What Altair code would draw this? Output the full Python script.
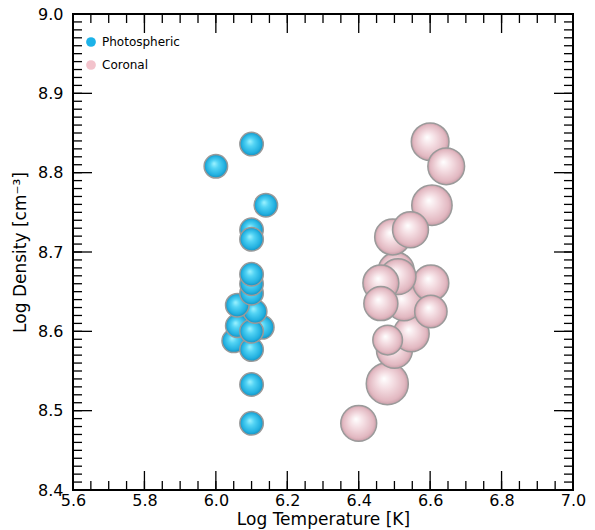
import altair as alt
import pandas as pd

# ---- data ----
photo_T = [6.10, 6.10, 6.05, 6.06, 6.10, 6.13, 6.10, 6.11, 6.06, 6.10, 6.10, 6.10, 6.10, 6.10, 6.14, 6.00, 6.10]
photo_D = [8.484, 8.533, 8.588, 8.607, 8.577, 8.605, 8.600, 8.625, 8.633, 8.648, 8.660, 8.672, 8.728, 8.716, 8.759, 8.808, 8.836]

cor_T = [6.40, 6.48, 6.50, 6.547, 6.527, 6.481, 6.602, 6.602, 6.505, 6.51, 6.462, 6.462, 6.605, 6.495, 6.545, 6.60, 6.645]
cor_D = [8.484, 8.534, 8.576, 8.597, 8.636, 8.589, 8.661, 8.625, 8.677, 8.669, 8.661, 8.635, 8.759, 8.719, 8.728, 8.839, 8.808]
cor_S = [1290, 1770, 1290, 1290, 1290, 880, 1290, 1050, 1290, 1290, 1290, 1160, 1630, 1290, 1290, 1420, 1350]

categories = ["Photospheric", "Coronal"]
legend_colors = ["#1cb2e8", "#f3c3cc"]

x_major = [5.6, 5.8, 6.0, 6.2, 6.4, 6.6, 6.8, 7.0]
x_minor = [round(5.6 + 0.05 * i, 2) for i in range(29)]
y_major = [8.4, 8.5, 8.6, 8.7, 8.8, 8.9, 9.0]
y_minor = [round(8.4 + 0.01 * i, 2) for i in range(61)]

photo = pd.DataFrame({"T": photo_T, "D": photo_D, "kind": "Photospheric"})
coronal = pd.DataFrame({"T": cor_T, "D": cor_D, "S": cor_S, "kind": "Coronal"})
both = pd.concat([photo, coronal], ignore_index=True)

W, H = 500, 476
MAJ, MIN = 19, 9
xs = alt.Scale(domain=[5.6, 7.0], nice=False, zero=False)
ys = alt.Scale(domain=[8.4, 9.0], nice=False, zero=False)
FONT = "DejaVu Sans"

blue_grad = {"gradient": "radial", "x1": 0.42, "y1": 0.38, "r1": 0.0, "x2": 0.5, "y2": 0.5, "r2": 0.5,
             "stops": [{"offset": 0, "color": "#9ff3ff"}, {"offset": 0.35, "color": "#52d3f4"},
                       {"offset": 0.8, "color": "#22b0e0"}, {"offset": 1, "color": "#1590bf"}]}
pink_grad = {"gradient": "radial", "x1": 0.42, "y1": 0.38, "r1": 0.0, "x2": 0.5, "y2": 0.5, "r2": 0.5,
             "stops": [{"offset": 0, "color": "#ffffff"}, {"offset": 0.4, "color": "#f4dde2"},
                       {"offset": 0.85, "color": "#e2b8c1"}, {"offset": 1, "color": "#c79ea8"}]}

# labels, titles and the legend (tiny points hidden under the spheres)
base = alt.Chart(both).mark_circle(size=10, opacity=1).encode(
    x=alt.X("T:Q", scale=xs, axis=alt.Axis(
        orient="bottom", values=x_major, format=".1f", domain=False, grid=False, ticks=False,
        labelFont=FONT, labelFontSize=16, labelColor="black", labelPadding=2, labelFlush=False,
        labelOverlap=False, title="Log Temperature [K]", titleFont=FONT, titleFontSize=17,
        titleFontWeight="normal", titleColor="black", titlePadding=3)),
    y=alt.Y("D:Q", scale=ys, axis=alt.Axis(
        orient="left", values=y_major, format=".1f", domain=False, grid=False, ticks=False,
        labelFont=FONT, labelFontSize=16, labelColor="black", labelPadding=10, labelFlush=False,
        labelOverlap=False, title="Log Density [cm⁻³]", titleFont=FONT, titleFontSize=17,
        titleFontWeight="normal", titleColor="black", titlePadding=8)),
    color=alt.Color("kind:N", scale=alt.Scale(domain=categories, range=legend_colors),
                    legend=alt.Legend(orient="none", legendX=12, legendY=22, title=None,
                                      symbolType="circle", symbolSize=95, symbolStrokeWidth=0,
                                      labelFont=FONT, labelFontSize=12, labelColor="black",
                                      rowPadding=11, labelOffset=5, padding=0)),
)

blue = alt.Chart(photo).mark_circle(size=552, opacity=1, fill=blue_grad, stroke="#9a9a9a",
                                    strokeWidth=1.5).encode(
    x=alt.X("T:Q", scale=xs, axis=None), y=alt.Y("D:Q", scale=ys, axis=None),
)

pink = alt.Chart(coronal).mark_circle(opacity=1, fill=pink_grad, stroke="#9a9a9a",
                                      strokeWidth=1.5).encode(
    x=alt.X("T:Q", scale=xs, axis=None), y=alt.Y("D:Q", scale=ys, axis=None),
    size=alt.Size("S:Q", scale=None),
)


def x_ticks(values, at_bottom, length):
    # inward tick marks placed on the x scale, on the bottom or top frame line
    y0 = H if at_bottom else 0
    y1 = H - length if at_bottom else length
    return alt.Chart(pd.DataFrame({"v": values})).mark_rule(color="black", strokeWidth=1.3).encode(
        x=alt.X("v:Q", scale=xs, axis=None), y=alt.value(y0), y2=alt.value(y1))


def y_ticks(values, at_left, length):
    # inward tick marks placed on the y scale, on the left or right frame line
    x0 = 0 if at_left else W
    x1 = length if at_left else W - length
    return alt.Chart(pd.DataFrame({"v": values})).mark_rule(color="black", strokeWidth=1.3).encode(
        y=alt.Y("v:Q", scale=ys, axis=None), x=alt.value(x0), x2=alt.value(x1))


ticks = [
    x_ticks(x_minor, True, MIN), x_ticks(x_major, True, MAJ),
    x_ticks(x_minor, False, MIN), x_ticks(x_major, False, MAJ),
    y_ticks(y_minor, True, MIN), y_ticks(y_major, True, MAJ),
    y_ticks(y_minor, False, MIN), y_ticks(y_major, False, MAJ),
]

chart = alt.layer(base, blue, pink, *ticks).resolve_axis(
    x="independent", y="independent"
).properties(
    width=W, height=H,
    autosize=alt.AutoSizeParams(type="none"),
    padding={"left": 73, "top": 14, "right": 22, "bottom": 40},
    background="white",
).configure_view(stroke="black", strokeWidth=2)

chart.save("out.html", embed_options={"renderer": "svg", "actions": False})
